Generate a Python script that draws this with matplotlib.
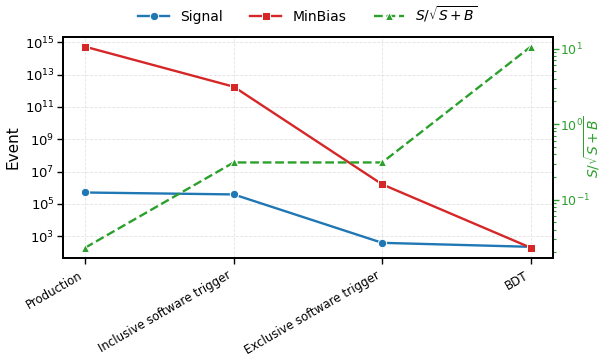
import matplotlib
matplotlib.use("Agg")
from matplotlib import pyplot as plt

# cut-flow stages and event counts
stages = ["Production", "Inclusive software trigger", "Exclusive software trigger", "BDT"]
signal = [5.0e5, 3.8e5, 380, 215]
minbias = [5.4e14, 1.8e12, 1.6e6, 190]
significance = [0.023, 0.31, 0.31, 10.6]

plt.rcParams["font.family"] = "DejaVu Sans"

fig = plt.figure(figsize=(6.05, 3.56), dpi=100)
ax1 = fig.add_axes([0.104, 0.276, 0.81, 0.621])
ax2 = ax1.twinx()

x = list(range(len(stages)))
l1, = ax1.plot(x, signal, color="#1f77b4", lw=1.7, marker="o", ms=6,
               mec="white", mew=0.7, label="Signal")
l2, = ax1.plot(x, minbias, color="#d62728", lw=1.7, marker="s", ms=6,
               mec="white", mew=0.7, label="MinBias")
l3, = ax2.plot(x, significance, color="#2ca02c", lw=1.7, ls="--", marker="^",
               ms=6, mec="white", mew=0.7, label=r"$S/\sqrt{S+B}$")

ax1.set_yscale("log")
ax2.set_yscale("log")

ax1.set_xticks(x)
ax1.set_xticklabels(stages, rotation=30, ha="right", fontsize=8.5)
ax1.set_ylabel("Event", fontsize=11, labelpad=3)
ax2.set_ylabel(r"$S/\sqrt{S+B}$", fontsize=10, color="#2ca02c")
ax2.yaxis.set_label_coords(1.06, 0.5)
ax2.tick_params(axis="y", which="both", colors="#2ca02c", labelsize=9, pad=1)
ax1.tick_params(axis="y", labelsize=9.5, pad=1.5)
ax1.tick_params(axis="both", which="major", length=4.5, width=1)
ax2.tick_params(axis="y", which="major", length=4, width=1)
ax2.tick_params(axis="y", which="minor", length=2.5, width=0.8)

ax1.grid(True, ls="--", lw=0.6, alpha=0.35)

for ax in (ax1, ax2):
    for s in ax.spines.values():
        s.set_linewidth(1.3)

ax1.legend([l1, l2, l3], [l1.get_label(), l2.get_label(), l3.get_label()],
           loc="lower center", bbox_to_anchor=(0.5, 1.0), ncol=3,
           frameon=False, fontsize=10, handlelength=2.2, columnspacing=2.0,
           borderaxespad=0.5)

fig.savefig("out.png", dpi=100)
